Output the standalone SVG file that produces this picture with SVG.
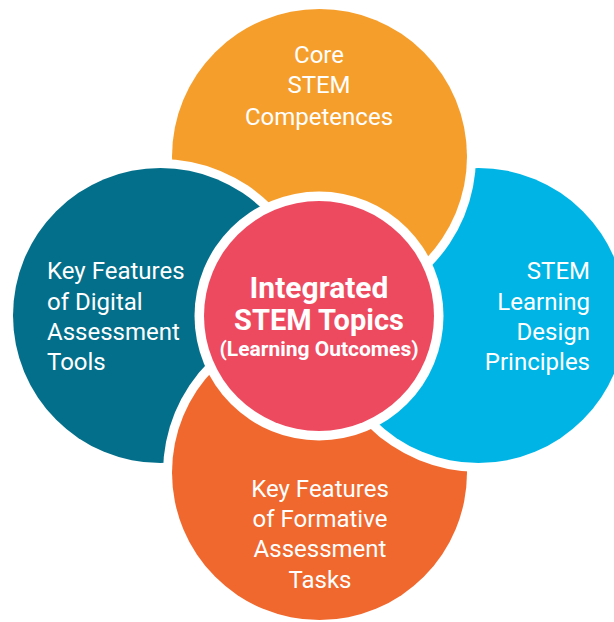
<svg xmlns="http://www.w3.org/2000/svg" xmlns:xlink="http://www.w3.org/1999/xlink" width="614" height="622" viewBox="0 0 614 622">
  <style>
    .halo { fill: #ffffff; }
    .lbl { font-family: Roboto, "Open Sans", "Liberation Sans", sans-serif; font-size: 24px; fill: #ffffff; }
    .mid { text-anchor: middle; }
    .end { text-anchor: end; }
    .ctr { font-family: Roboto, "Open Sans", "Liberation Sans", sans-serif; font-weight: bold; fill: #ffffff; text-anchor: middle; }
  </style>
  <defs>
    <g id="shape-bottom">
      <circle class="halo" cx="319.5" cy="472.5" r="156.5"/>
      <circle cx="319.5" cy="472.5" r="147.5" fill="#F0682D"/>
    </g>
    <clipPath id="clip-overlap" clipPathUnits="userSpaceOnUse">
      <rect x="0" y="300" width="322" height="174"/>
    </clipPath>
  </defs>
  <rect width="614" height="622" fill="#ffffff"/>

  <g id="node-bottom">
    <use xlink:href="#shape-bottom"/>
  </g>

  <g id="node-right">
    <circle class="halo" cx="478.5" cy="315.5" r="156.5"/>
    <circle cx="478.5" cy="315.5" r="147.5" fill="#00B5E6"/>
    <text class="lbl end" x="590" y="279">STEM</text>
    <text class="lbl end" x="590" y="310">Learning</text>
    <text class="lbl end" x="590" y="340">Design</text>
    <text class="lbl end" x="590" y="370">Principles</text>
  </g>

  <g id="node-top">
    <circle class="halo" cx="319.5" cy="156.5" r="156.5"/>
    <circle cx="319.5" cy="156.5" r="147.5" fill="#F69E2B"/>
    <text class="lbl mid" x="319" y="63">Core</text>
    <text class="lbl mid" x="319" y="93">STEM</text>
    <text class="lbl mid" x="319" y="125">Competences</text>
  </g>

  <g id="node-left">
    <circle class="halo" cx="160.5" cy="315.5" r="156.5"/>
    <circle cx="160.5" cy="315.5" r="147.5" fill="#036F8A"/>
    <text class="lbl" x="47" y="279">Key Features</text>
    <text class="lbl" x="47" y="310">of Digital</text>
    <text class="lbl" x="47" y="340">Assessment</text>
    <text class="lbl" x="47" y="370">Tools</text>
  </g>

  <g id="node-bottom-front">
    <use xlink:href="#shape-bottom" clip-path="url(#clip-overlap)"/>
    <text class="lbl mid" x="320" y="497">Key Features</text>
    <text class="lbl mid" x="320" y="527">of Formative</text>
    <text class="lbl mid" x="320" y="557">Assessment</text>
    <text class="lbl mid" x="320" y="588">Tasks</text>
  </g>

  <g id="node-center">
    <circle class="halo" cx="319" cy="316" r="124.5"/>
    <circle cx="319" cy="316" r="115" fill="#EE4A5F"/>
    <text class="ctr" x="319" y="298" font-size="30">Integrated</text>
    <text class="ctr" x="319" y="330" font-size="29">STEM Topics</text>
    <text class="ctr" x="319" y="356" font-size="21">(Learning Outcomes)</text>
  </g>
</svg>
